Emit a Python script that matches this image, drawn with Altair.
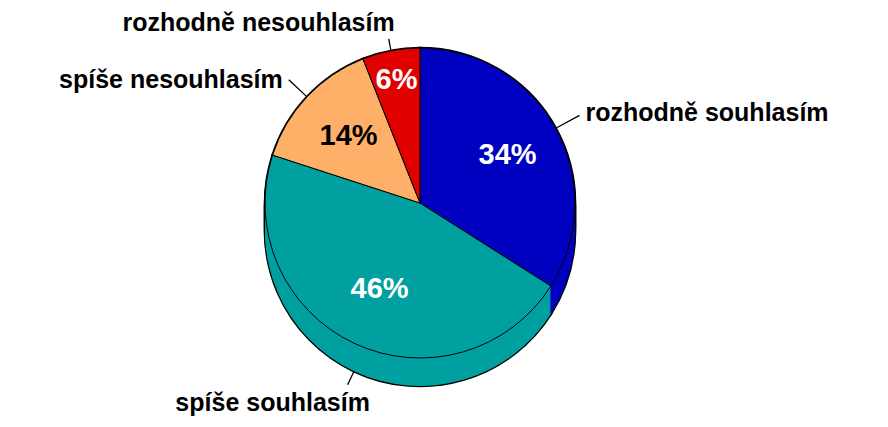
import altair as alt
import pandas as pd

# ---- data ----
categories = ["rozhodně souhlasím", "spíše souhlasím", "spíše nesouhlasím", "rozhodně nesouhlasím"]
values = [34, 46, 14, 6]
slice_colors = ["#0000C0", "#00A0A0", "#FFB068", "#E00000"]
pct_text_colors = ["white", "white", "black", "white"]

df = pd.DataFrame({"cat": categories, "value": values, "idx": list(range(len(values)))})

# ---- layout / style ----
CX, CY, R, DEPTH = 412, 195, 155, 28
FONT = "Liberation Sans"

# per-category label styling
label_style = {
    0: dict(lead=182, side=False, align="left", baseline="middle", dx=6, dy=-2, pr=100),
    1: dict(lead=170, side=True, align="center", baseline="top", dx=-75, dy=6, pr=95),
    2: dict(lead=180, side=False, align="right", baseline="middle", dx=-6, dy=0, pr=98),
    3: dict(lead=167, side=False, align="right", baseline="bottom", dx=6, dy=-3, pr=125),
}

base = (
    alt.Chart(df)
    .transform_joinaggregate(total="sum(value)")
    .transform_window(cum="sum(value)", sort=[alt.SortField("idx")], frame=[None, 0])
    .transform_calculate(
        a0="(datum.cum - datum.value) / datum.total * 2 * PI",
        a1="datum.cum / datum.total * 2 * PI",
        mid="(datum.cum - datum.value / 2) / datum.total * 2 * PI",
        label="datum.value + '%'",
    )
    .transform_calculate(l0="datum.mid - 0.004", l1="datum.mid + 0.004")
)

fill_scale = alt.Scale(domain=categories, range=slice_colors)
theta_enc = alt.Theta("a0:Q", scale=None, stack=False)

layers = []
# black silhouette (outline of the whole cylinder)
for d in range(DEPTH, -1, -4):
    layers.append(
        base.mark_arc(outerRadius=R, fill="black", stroke="black", strokeWidth=2.5).encode(
            theta=theta_enc, theta2="a1:Q", x=alt.value(CX), y=alt.value(CY + d)
        )
    )
# coloured side of the cylinder
for d in range(DEPTH, 0, -2):
    layers.append(
        base.mark_arc(outerRadius=R).encode(
            theta=theta_enc,
            theta2="a1:Q",
            x=alt.value(CX),
            y=alt.value(CY + d),
            color=alt.Color("cat:N", scale=fill_scale, legend=None),
        )
    )
# top face
layers.append(
    base.mark_arc(outerRadius=R, stroke="black", strokeWidth=1).encode(
        theta=theta_enc,
        theta2="a1:Q",
        x=alt.value(CX),
        y=alt.value(CY),
        color=alt.Color("cat:N", scale=fill_scale, legend=None),
    )
)

for i in range(len(categories)):
    st = label_style[i]
    yoff = DEPTH if st["side"] else 0
    sub = base.transform_filter(f"datum.idx == {i}")
    # leader line
    layers.append(
        sub.mark_arc(innerRadius=R, outerRadius=st["lead"], color="black").encode(
            theta=alt.Theta("l0:Q", scale=None, stack=False),
            theta2="l1:Q",
            x=alt.value(CX),
            y=alt.value(CY + yoff),
        )
    )
    # category label
    layers.append(
        sub.mark_text(
            radius=st["lead"],
            align=st["align"],
            baseline=st["baseline"],
            dx=st["dx"],
            dy=st["dy"],
            font=FONT,
            fontSize=25,
            fontWeight="bold",
            color="black",
        ).encode(
            theta=alt.Theta("mid:Q", scale=None, stack=False),
            text="cat:N",
            x=alt.value(CX),
            y=alt.value(CY + yoff),
        )
    )
    # percentage label
    layers.append(
        sub.mark_text(
            radius=st["pr"],
            align="center",
            baseline="middle",
            font=FONT,
            fontSize=29,
            fontWeight="bold",
            color=pct_text_colors[i],
        ).encode(
            theta=alt.Theta("mid:Q", scale=None, stack=False),
            text="label:N",
            x=alt.value(CX),
            y=alt.value(CY),
        )
    )

chart = (
    alt.layer(*layers)
    .properties(width=872, height=411, autosize=alt.AutoSizeParams(type="none"), padding=0, background="white")
    .configure_view(stroke=None)
)

chart.save("out.html", embed_options={"renderer": "svg", "actions": False})
